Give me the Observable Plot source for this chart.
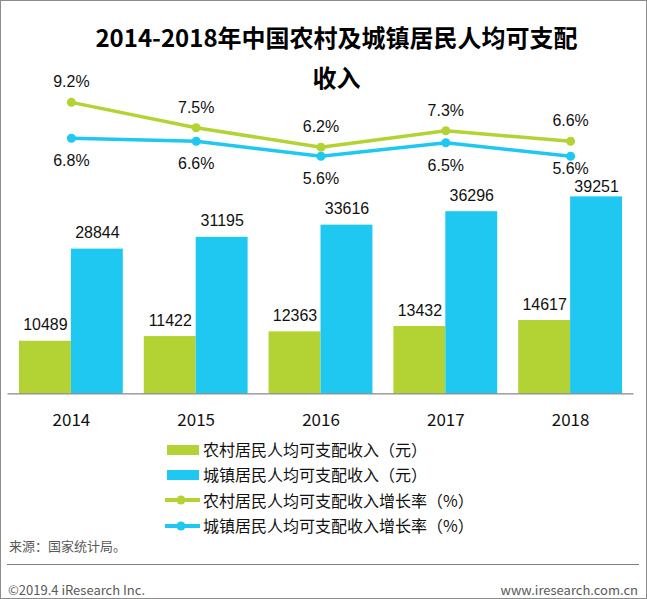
<!DOCTYPE html>
<html>
<head>
<meta charset="utf-8">
<script src="https://cdn.jsdelivr.net/npm/d3@7"></script>
<script src="https://cdn.jsdelivr.net/npm/@observablehq/plot@0.6"></script>
<style>
  html, body { margin: 0; padding: 0; background: #fff; }
  #frame { position: relative; width: 647px; height: 599px; box-sizing: border-box; border: 1px solid #8c8c8c; overflow: hidden; font-family: "Noto Sans CJK SC", sans-serif; }
  #title { position: absolute; left: 0; top: 16px; width: 647px; padding-left: 24px; box-sizing: border-box; text-align: center; font-size: 24px; font-weight: bold; line-height: 40px; color: #000; }
  .layer { position: absolute; left: -1px; top: -1px; }
  #legend { position: absolute; left: 163px; top: 436px; font-size: 16px; color: #111; }
  .row { height: 25.3px; line-height: 25.3px; display: flex; align-items: center; white-space: nowrap; }
  .row svg { margin-right: 2px; }
  #source { position: absolute; left: 8px; top: 536px; font-size: 13px; color: #595959; line-height: 18px; }
  #sep { position: absolute; left: 6px; width: 632px; top: 563px; height: 0; border-top: 1px solid #7f7f7f; }
  #copy { position: absolute; left: 7px; top: 580px; font-size: 13px; color: #595959; line-height: 18px; }
  #site { position: absolute; right: 8px; top: 580px; font-size: 13px; color: #595959; line-height: 18px; }
</style>
</head>
<body>
<div id="frame">
  <div id="title">2014-2018年中国农村及城镇居民人均可支配<br>收入</div>
  <div id="bars" class="layer"></div>
  <div id="lines" class="layer"></div>
  <div id="legend"></div>
  <div id="source">来源：国家统计局。</div>
  <div id="sep"></div>
  <div id="copy">©2019.4 iResearch Inc.</div>
  <div id="site">www.iresearch.com.cn</div>
</div>
<script>
const years = ["2014", "2015", "2016", "2017", "2018"];
const ruralIncome = [10489, 11422, 12363, 13432, 14617];
const urbanIncome = [28844, 31195, 33616, 36296, 39251];
const ruralGrowth = [9.2, 7.5, 6.2, 7.3, 6.6];
const urbanGrowth = [6.8, 6.6, 5.6, 6.5, 5.6];
const seriesNames = [
  "农村居民人均可支配收入（元）",
  "城镇居民人均可支配收入（元）",
  "农村居民人均可支配收入增长率（%）",
  "城镇居民人均可支配收入增长率（%）"
];

const GREEN = "#b3d334";
const CYAN = "#1fc8f1";

const data = years.map((y, i) => ({
  year: y,
  rural: ruralIncome[i],
  urban: urbanIncome[i],
  rg: ruralGrowth[i],
  ug: urbanGrowth[i]
}));

const xScale = {
  domain: years,
  paddingInner: 0.17,
  paddingOuter: 0.085
};
const labelFont = "Liberation Sans, Arial, sans-serif";
const last = years[years.length - 1];

const bars = Plot.plot({
  width: 647,
  height: 440,
  marginLeft: 7.5,
  marginRight: 12.5,
  marginTop: 0,
  marginBottom: 46,
  style: { fontSize: "17px", fontFamily: "Noto Sans CJK SC, sans-serif", color: "#111", background: "transparent" },
  x: { ...xScale, tickSize: 0, tickPadding: 20, label: null },
  y: { domain: [0, 78377], axis: null },
  marks: [
    Plot.barY(data, { x: "year", y: "rural", fill: GREEN, insetRight: 52 }),
    Plot.barY(data, { x: "year", y: "urban", fill: CYAN, insetLeft: 52 }),
    Plot.ruleY([0], { stroke: "#6b6b6b", strokeWidth: 1 }),
    Plot.text(data, { x: "year", y: "rural", text: d => String(d.rural), dx: -26, dy: -16, fontSize: 16, fontFamily: labelFont, fill: "#111" }),
    Plot.text(data, { filter: d => d.year !== last, x: "year", y: "urban", text: d => String(d.urban), dx: 26, dy: -16, fontSize: 16, fontFamily: labelFont, fill: "#111" }),
    Plot.text(data, { filter: d => d.year === last, x: "year", y: "urban", text: d => String(d.urban), dx: 26, dy: -10, fontSize: 16, fontFamily: labelFont, fill: "#111" })
  ]
});
document.getElementById("bars").appendChild(bars);

const lines = Plot.plot({
  width: 647,
  height: 440,
  marginLeft: 7.5,
  marginRight: 12.5,
  marginTop: 0,
  marginBottom: 200,
  style: { background: "transparent" },
  x: { ...xScale, axis: null },
  y: { domain: [0, 16], axis: null },
  marks: [
    Plot.line(data, { x: "year", y: "ug", stroke: CYAN, strokeWidth: 3.5 }),
    Plot.dot(data, { x: "year", y: "ug", r: 4.5, fill: CYAN }),
    Plot.line(data, { x: "year", y: "rg", stroke: GREEN, strokeWidth: 3.5 }),
    Plot.dot(data, { x: "year", y: "rg", r: 4.5, fill: GREEN }),
    Plot.text(data, { x: "year", y: "rg", text: d => d.rg.toFixed(1) + "%", dy: -20, fontSize: 16, fontFamily: labelFont, fill: "#111" }),
    Plot.text(data, { filter: d => d.year !== last, x: "year", y: "ug", text: d => d.ug.toFixed(1) + "%", dy: 23, fontSize: 16, fontFamily: labelFont, fill: "#111" }),
    Plot.text(data, { filter: d => d.year === last, x: "year", y: "ug", text: d => d.ug.toFixed(1) + "%", dy: 13, fontSize: 16, fontFamily: labelFont, fill: "#111" })
  ]
});
document.getElementById("lines").appendChild(lines);

// legend
const legend = document.getElementById("legend");
const markers = [
  { type: "rect", color: GREEN },
  { type: "rect", color: CYAN },
  { type: "line", color: GREEN },
  { type: "line", color: CYAN }
];
seriesNames.forEach((name, i) => {
  const row = document.createElement("div");
  row.className = "row";
  const m = markers[i];
  const sw = m.type === "rect"
    ? `<svg width="37" height="12"><rect x="3" y="1" width="32" height="10" fill="${m.color}"/></svg>`
    : `<svg width="37" height="12"><line x1="1" y1="6" x2="36" y2="6" stroke="${m.color}" stroke-width="4"/><circle cx="17" cy="6" r="4.5" fill="${m.color}"/></svg>`;
  row.innerHTML = sw + `<span>${name}</span>`;
  legend.appendChild(row);
});
</script>
</body>
</html>
